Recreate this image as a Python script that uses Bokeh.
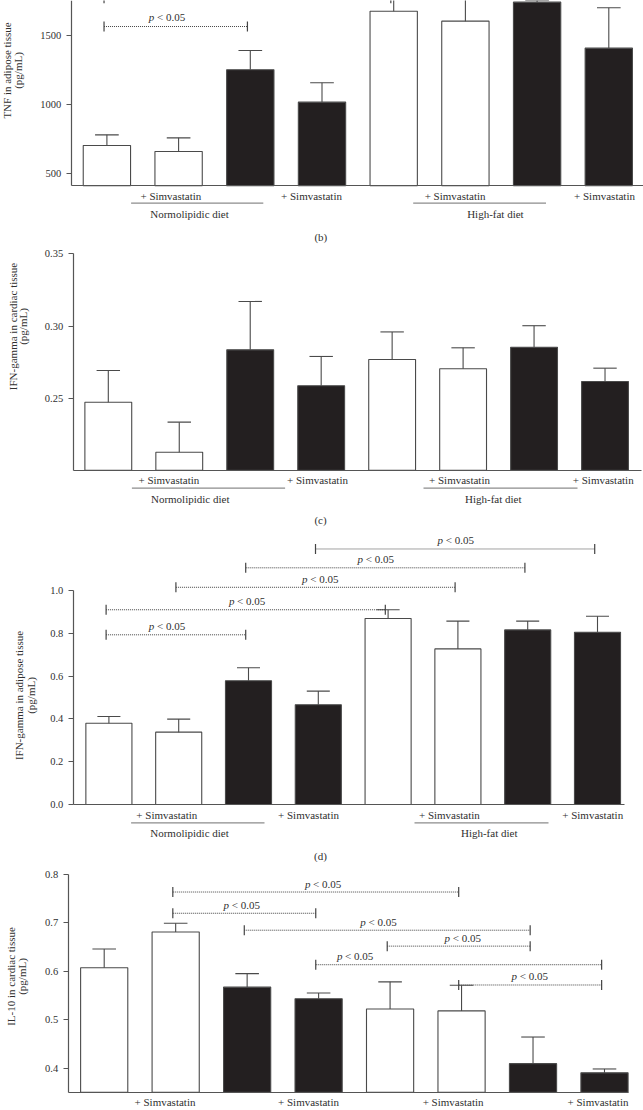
import math
from bokeh.plotting import figure
from bokeh.models import LinearAxis, FixedTicker, Range1d
from bokeh.layouts import column
from bokeh.core.properties import value
from bokeh.embed import file_html
from bokeh.resources import INLINE

# ---------------- data ----------------
bar_index = [1, 2, 3, 4, 5, 6, 7, 8]
bar_group = ["open", "open", "filled", "filled", "open", "open", "filled", "filled"]
simvastatin_label = "+ Simvastatin"
diet_labels = ["Normolipidic diet", "High-fat diet"]
panel_letters = ["(b)", "(c)", "(d)"]
sig_text = ["p", "< 0.05"]

tnf_adipose_mean = [700, 656, 1249, 1014, 1674, 1602, 1740, 1406]
tnf_adipose_sem = [77, 99, 140, 141, 170, 190, 12, 293]
tnf_adipose_pairs = [(1, 3), (1, 5)]
tnf_y_ticks = [500, 1000, 1500]
tnf_y_tick_labels = ["500", "1000", "1500"]
tnf_title = ["TNF in adipose tissue", "(pg/mL)"]

ifn_cardiac_mean = [0.2472, 0.2126, 0.2835, 0.2586, 0.2768, 0.2704, 0.2853, 0.2616]
ifn_cardiac_sem = [0.0220, 0.0208, 0.0335, 0.0203, 0.0191, 0.0145, 0.0149, 0.0092]
ifn_cardiac_pairs = []
ifn_cardiac_y_ticks = [0.25, 0.30, 0.35]
ifn_cardiac_y_tick_labels = ["0.25", "0.30", "0.35"]
ifn_cardiac_title = ["IFN-gamma in cardiac tissue", "(pg/mL)"]

ifn_adipose_mean = [0.380, 0.338, 0.578, 0.466, 0.869, 0.727, 0.816, 0.805]
ifn_adipose_sem = [0.031, 0.061, 0.061, 0.064, 0.041, 0.130, 0.041, 0.075]
ifn_adipose_pairs = [(1, 3), (1, 5), (2, 6), (3, 7), (4, 8)]
ifn_adipose_y_ticks = [0.0, 0.2, 0.4, 0.6, 0.8, 1.0]
ifn_adipose_y_tick_labels = ["0.0", "0.2", "0.4", "0.6", "0.8", "1.0"]
ifn_adipose_title = ["IFN-gamma in adipose tissue", "(pg/mL)"]

il10_cardiac_mean = [0.607, 0.681, 0.567, 0.543, 0.522, 0.518, 0.409, 0.390]
il10_cardiac_sem = [0.039, 0.018, 0.028, 0.012, 0.056, 0.053, 0.055, 0.008]
il10_cardiac_pairs = [(2, 6), (2, 4), (3, 7), (5, 7), (4, 8), (6, 8)]
il10_y_ticks = [0.4, 0.5, 0.6, 0.7, 0.8]
il10_y_tick_labels = ["0.4", "0.5", "0.6", "0.7", "0.8"]
il10_title = ["IL-10 in cardiac tissue", "(pg/mL)"]

# ---------------- styling / layout ----------------
FONT = "Liberation Serif"
TXT = "#2f2f2f"
AXC = "#555555"
BAR_LINE = "#4a4a4a"
FILL = {"open": "#ffffff", "filled": "#231f20"}
DOT = "#444444"
UNDER = "#8c8c8c"
W = 643
REF_W = 643


def build(cfg):
    c1, d = cfg["c1"], cfg["d"]
    ya, va, k = cfg["tick_ref"]
    T, B = cfg["span"]

    def ux(px):
        return 1 + (px - c1) / d

    def vy(py):
        return va + (ya - py) * k

    p = figure(width=W, height=B - T, x_range=Range1d(ux(0), ux(REF_W)),
               y_range=Range1d(vy(B), vy(T)), x_axis_type=None, y_axis_type=None,
               toolbar_location=None, output_backend="svg", title=None, min_border=0)
    p.outline_line_color = None
    p.background_fill_color = "white"
    p.border_fill_color = "white"

    base = cfg["base"]
    means, sems = cfg["means"], cfg["sems"]
    fills = [FILL[g] for g in bar_group]
    p.vbar(x=bar_index, top=means, bottom=base, width=0.66, fill_color=fills,
           line_color=BAR_LINE, line_width=1.1)
    upper = [m + s for m, s in zip(means, sems)]
    p.segment(x0=bar_index, y0=means, x1=bar_index, y1=upper, line_color=BAR_LINE, line_width=1.1)
    p.segment(x0=[i - 0.165 for i in bar_index], y0=upper, x1=[i + 0.165 for i in bar_index],
              y1=upper, line_color=BAR_LINE, line_width=1.1)

    tf = dict(text_font=value(FONT), text_color=TXT)

    # significance brackets
    for (i, j), yv, tx in zip(cfg["pairs"], cfg["pair_y"], cfg["pair_text_px"]):
        x0, x1 = i - 0.04, j - 0.04
        p.segment(x0=[x0], y0=[yv], x1=[x1], y1=[yv], line_dash="1 1", line_color=DOT, line_width=1)
        p.scatter(x=[x0, x1], y=[yv, yv], marker="dash", angle=math.pi / 2, size=10,
                  line_color=DOT, line_width=1.2)
        if tx is None:
            continue  # label lies above the visible part of the figure
        ty = yv + cfg["text_gap"] * k
        p.text(x=[ux(tx)], y=[ty], text=[sig_text[0]], text_font_style="italic",
               text_align="right", text_baseline="middle", x_offset=-12.5,
               text_font_size=value("11px"), **tf)
        p.text(x=[ux(tx)], y=[ty], text=[sig_text[1]], text_align="left",
               text_baseline="middle", x_offset=-9.8, text_font_size=value("11px"), **tf)

    # diet underlines and labels
    if cfg.get("underline_px"):
        yl = vy(cfg["underline_py"])
        for (a, b) in cfg["underline_px"]:
            p.segment(x0=[ux(a)], y0=[yl], x1=[ux(b)], y1=[yl], line_color=UNDER, line_width=1.3)
        p.text(x=[ux(v) for v in cfg["diet_px"]], y=[vy(cfg["diet_py"])] * 2, text=diet_labels,
               text_align="center", text_baseline="middle", text_font_size=value("11px"), **tf)

    if cfg.get("letter"):
        lt, lx, ly = cfg["letter"]
        p.text(x=[ux(lx)], y=[vy(ly)], text=[lt], text_align="center", text_baseline="middle",
               text_font_size=value("11px"), **tf)

    # y title (two rotated lines)
    for line, lx in zip(cfg["ytitle"], cfg["ytitle_px"]):
        p.text(x=[ux(lx)], y=[vy(cfg["ytitle_py"])], text=[line], angle=math.pi / 2,
               text_align="center", text_baseline="middle", text_font_size=value("11px"), **tf)

    # x axis with "+ Simvastatin" labels
    xt = [round(ux(v), 4) for v in cfg["simva_px"]]
    xaxis = LinearAxis(fixed_location=base, bounds=(ux(cfg["axis_px"]), ux(cfg["axis_end_px"])),
                       ticker=FixedTicker(ticks=xt),
                       major_label_overrides={t: simvastatin_label for t in xt},
                       axis_line_color=AXC, axis_line_width=1.2,
                       major_tick_line_color=None, minor_tick_line_color=None,
                       major_tick_in=0, major_tick_out=0, major_label_standoff=4,
                       major_label_text_font=FONT, major_label_text_font_size="11px",
                       major_label_text_color=TXT)
    p.add_layout(xaxis, "below")

    yaxis = LinearAxis(fixed_location=ux(cfg["axis_px"]), bounds=(base, cfg["top"]),
                       ticker=FixedTicker(ticks=cfg["yticks"]),
                       major_label_overrides=dict(zip(cfg["yticks"], cfg["yticklabels"])),
                       axis_line_color=AXC, axis_line_width=1.2,
                       major_tick_line_color=AXC, major_tick_line_width=1.2,
                       minor_tick_line_color=None, major_tick_in=0, major_tick_out=5,
                       major_label_standoff=5, major_label_text_font=FONT,
                       major_label_text_font_size="10.5px", major_label_text_color=TXT)
    p.add_layout(yaxis, "left")
    return p


cfg_a = dict(c1=106.4, d=71.7, tick_ref=(172.5, 500.0, 500 / 68.9), span=(0, 245),
             base=407.8, top=3000, axis_px=70.7, axis_end_px=643,
             means=tnf_adipose_mean, sems=tnf_adipose_sem,
             yticks=tnf_y_ticks, yticklabels=tnf_y_tick_labels,
             simva_px=[170.4, 311, 454.6, 604], underline_py=202.7,
             underline_px=[(130.6, 262.8), (412.7, 545.5)], diet_px=[189, 494.9], diet_py=213.3,
             letter=(panel_letters[0], 320.3, 236.7), ytitle=tnf_title, ytitle_px=[6.3, 17.0],
             ytitle_py=70, pairs=tnf_adipose_pairs, pair_y=[1563, 1768], pair_text_px=[166.3, None],
             text_gap=9.3)

cfg_b = dict(c1=107.8, d=70.96, tick_ref=(397.7, 0.25, 0.05 / 72.2), span=(245, 527),
             base=0.20, top=0.35, axis_px=72.7, axis_end_px=640.6,
             means=ifn_cardiac_mean, sems=ifn_cardiac_sem,
             yticks=ifn_cardiac_y_ticks, yticklabels=ifn_cardiac_y_tick_labels,
             simva_px=[168.4, 317, 459, 602.7], underline_py=487.7,
             underline_px=[(131.4, 284.6), (423, 577)], diet_px=[189.7, 492.8], diet_py=498.3,
             letter=(panel_letters[1], 320, 519.3), ytitle=ifn_cardiac_title, ytitle_px=[12.3, 22.6],
             ytitle_py=326, pairs=ifn_cardiac_pairs, pair_y=[], pair_text_px=[], text_gap=8.5)

cfg_c = dict(c1=108.4, d=69.8, tick_ref=(804, 0.0, 1 / 214), span=(527, 862),
             base=0.0, top=1.0, axis_px=72.8, axis_end_px=624,
             means=ifn_adipose_mean, sems=ifn_adipose_sem,
             yticks=ifn_adipose_y_ticks, yticklabels=ifn_adipose_y_tick_labels,
             simva_px=[166.3, 308, 448.9, 592.2], underline_py=822.3,
             underline_px=[(130.6, 264), (414, 548)], diet_px=[189, 488.7], diet_py=832.3,
             letter=(panel_letters[2], 320, 855), ytitle=ifn_adipose_title, ytitle_px=[18.5, 30.5],
             ytitle_py=695, pairs=ifn_adipose_pairs, pair_y=[0.793, 0.910, 1.015, 1.106, 1.194],
             pair_text_px=[166.3, 246.4, 319.5, 375, 455], text_gap=8.5)

cfg_d = dict(c1=103.7, d=71.47, tick_ref=(970.7, 0.6, 0.1 / 48.4), span=(862, 1110),
             base=0.35, top=0.8, axis_px=67.7, axis_end_px=628,
             means=il10_cardiac_mean, sems=il10_cardiac_sem,
             yticks=il10_y_ticks, yticklabels=il10_y_tick_labels,
             simva_px=[164.5, 308, 452.6, 597.5], underline_px=None,
             letter=None, ytitle=il10_title, ytitle_px=[10.0, 21.7], ytitle_py=976,
             pairs=il10_cardiac_pairs, pair_y=[0.7636, 0.7197, 0.6847, 0.6518, 0.6134, 0.5715],
             pair_text_px=[322.4, 241, 377.8, 462, 354.4, 529], text_gap=8.5)

panels = [build(c) for c in (cfg_a, cfg_b, cfg_c, cfg_d)]
layout = column(*panels, spacing=0)

open("out.html", "w").write(file_html(layout, INLINE))
